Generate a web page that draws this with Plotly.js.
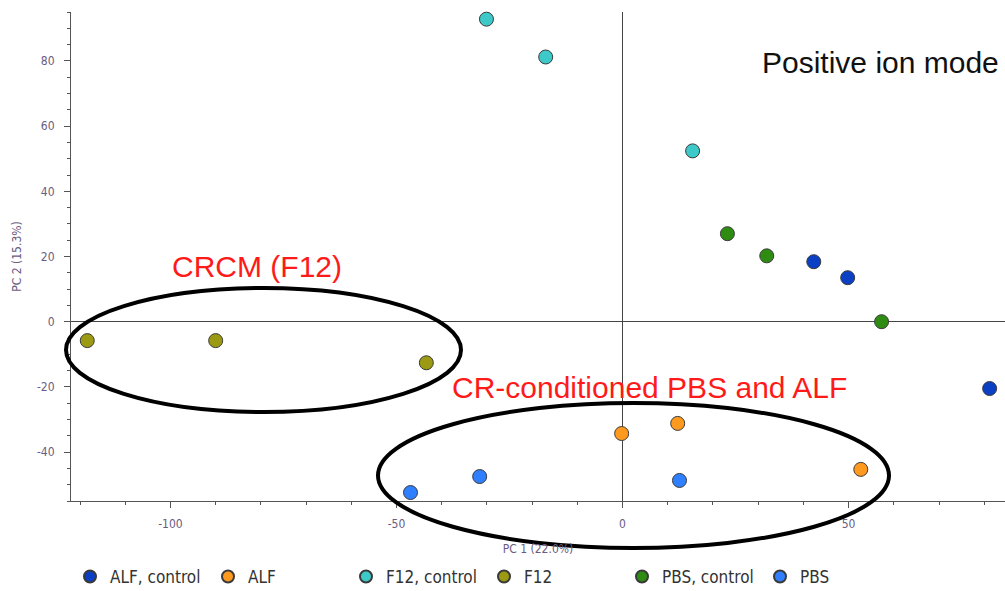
<!DOCTYPE html>
<html>
<head>
<meta charset="utf-8">
<script src="https://cdn.plot.ly/plotly-3.0.1.min.js"></script>
<style>html,body{margin:0;padding:0;background:#fff;}#chart{width:1005px;height:591px;}</style>
</head>
<body>
<div id="chart"></div>
<script>
const seriesNames = ["ALF, control", "ALF", "F12, control", "F12", "PBS, control", "PBS"];
const seriesColors = ["#0b3fc4", "#ff9a1f", "#3ec9c9", "#9c9a12", "#2e8c12", "#2f7fff"];
const pc1 = [
  [42.3, 49.8, 81.2],
  [-0.2, 12.2, 52.7],
  [-30.1, -17.0, 15.5],
  [-118.4, -90.0, -43.4],
  [23.2, 31.9, 57.3],
  [-46.9, -31.6, 12.6]
];
const pc2 = [
  [18.4, 13.5, -20.5],
  [-34.3, -31.2, -45.3],
  [92.8, 81.2, 52.4],
  [-5.8, -5.8, -12.6],
  [27.0, 20.2, 0.0],
  [-52.4, -47.5, -48.7]
];
const xTicks = [-100, -50, 0, 50];
const yTicks = [-40, -20, 0, 20, 40, 60, 80];

const traces = seriesNames.map((n, i) => ({
  type: "scatter", mode: "markers", name: n,
  x: pc1[i], y: pc2[i],
  marker: {size: 14, color: seriesColors[i], line: {color: "#3a3a3a", width: 1}},
  cliponaxis: false
}));

const narrow = "DejaVu Sans Condensed, Liberation Sans Narrow, Arial, sans-serif";
const tickFont = {family: narrow, size: 12, color: "#6a5c80"};

const W = 1005, H = 591, L = 71, R = 0, T = 12, B = 90;
const pw = W - L - R, ph = H - T - B;
const px2paperX = p => (p - L) / pw;
const px2paperY = p => (H - B - p) / ph;

const layout = {
  width: W, height: H,
  margin: {l: L, r: R, t: T, b: B, autoexpand: false},
  paper_bgcolor: "#fff", plot_bgcolor: "#fff",
  showlegend: true,
  legend: {
    orientation: "h", x: px2paperX(70), y: px2paperY(577), xanchor: "left", yanchor: "middle",
    entrywidth: 93, entrywidthmode: "pixels", tracegroupgap: 0,
    font: {family: narrow, size: 17, color: "#333"},
    itemsizing: "constant"
  },
  xaxis: {
    range: [-122, 84.6], tickvals: xTicks, ticktext: xTicks.map(String),
    ticks: "outside", ticklen: 6, tickcolor: "#555", showgrid: false,
    showline: true, linecolor: "#555", linewidth: 1,
    zeroline: true, zerolinecolor: "#444", zerolinewidth: 1,
    minor: {dtick: 10, ticks: "outside", ticklen: 3, tickcolor: "#555"},
    tickfont: tickFont, ticklabelstandoff: 6,
    title: {text: "PC 1 (22.0%)", font: {family: narrow, size: 12, color: "#6a5c80"}, standoff: 14}
  },
  yaxis: {
    range: [-55, 95], tickvals: yTicks, ticktext: yTicks.map(String),
    ticks: "outside", ticklen: 6, tickcolor: "#555", showgrid: false,
    showline: true, linecolor: "#555", linewidth: 1,
    zeroline: true, zerolinecolor: "#444", zerolinewidth: 1,
    minor: {dtick: 5, ticks: "outside", ticklen: 3, tickcolor: "#555"},
    tickfont: tickFont, ticklabelstandoff: 7,
    title: {text: "PC 2 (15.3%)", font: {family: narrow, size: 12, color: "#6a5c80"}, standoff: 12}
  },
  shapes: [
    {type: "circle", xref: "paper", yref: "paper",
     x0: px2paperX(66), x1: px2paperX(461), y0: px2paperY(412), y1: px2paperY(288),
     line: {color: "#000", width: 4}, layer: "above"},
    {type: "circle", xref: "paper", yref: "paper",
     x0: px2paperX(378), x1: px2paperX(889), y0: px2paperY(548), y1: px2paperY(403),
     line: {color: "#000", width: 4}, layer: "above"}
  ],
  annotations: [
    {text: "CRCM (F12)", x: -80.9, y: 16.9, xref: "x", yref: "y", showarrow: false,
     font: {family: "Liberation Sans, Arial, sans-serif", size: 30, color: "#ff1a1a"}},
    {text: "CR-conditioned PBS and ALF", x: 6.0, y: -20.3, xref: "x", yref: "y", showarrow: false,
     font: {family: "Liberation Sans, Arial, sans-serif", size: 30, color: "#ff1a1a"}},
    {text: "Positive ion mode", x: px2paperX(1001), y: px2paperY(62), xref: "paper", yref: "paper", showarrow: false,
     xanchor: "right", yanchor: "middle",
     font: {family: "Liberation Sans, Arial, sans-serif", size: 30, color: "#111"}}
  ]
};

Plotly.newPlot("chart", traces, layout, {displayModeBar: false, staticPlot: true});
</script>
</body>
</html>
